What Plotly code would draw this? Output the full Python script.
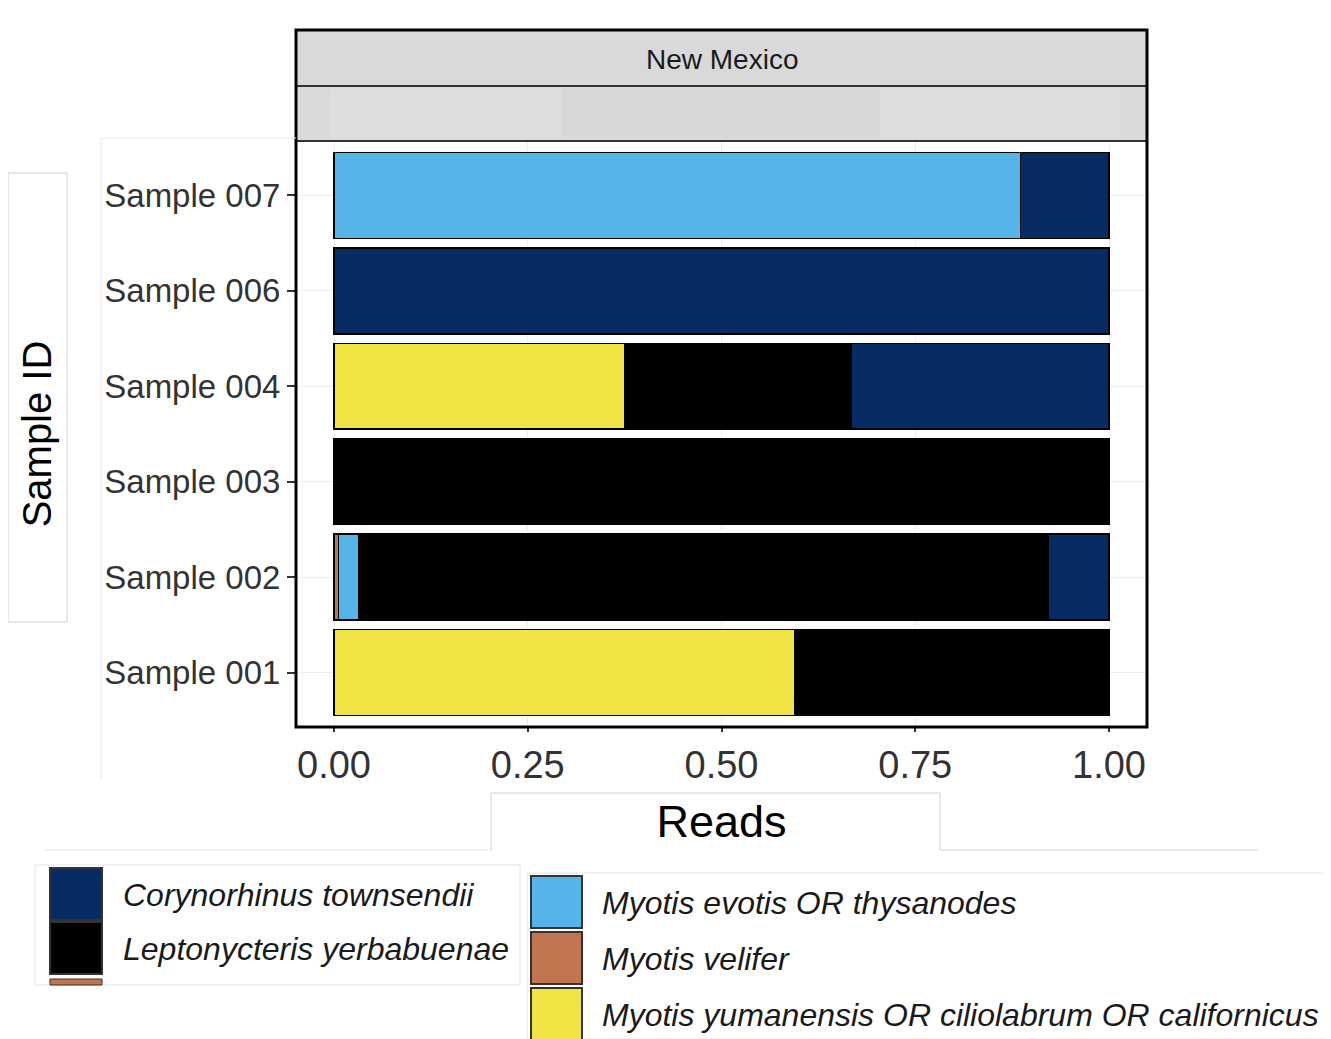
import plotly.graph_objects as go

# ---------------- data ----------------
samples = ["Sample 001", "Sample 002", "Sample 003", "Sample 004", "Sample 006", "Sample 007"]
species = [
    "Corynorhinus townsendii",
    "Leptonycteris yerbabuenae",
    "Myotis evotis OR thysanodes",
    "Myotis velifer",
    "Myotis yumanensis OR ciliolabrum OR californicus",
]
colors = ["#062C63", "#000000", "#56B4E9", "#C0754F", "#F0E442"]

coryno = [0.0, 0.079, 0.0, 0.333, 1.0, 0.114]
lepto = [0.406, 0.889, 1.0, 0.292, 0.0, 0.0]
evotis = [0.0, 0.026, 0.0, 0.0, 0.0, 0.886]
velifer = [0.0, 0.006, 0.0, 0.0, 0.0, 0.0]
yuman = [0.594, 0.0, 0.0, 0.375, 0.0, 0.0]
values = [coryno, lepto, evotis, velifer, yuman]

x_ticks = [0, 0.25, 0.5, 0.75, 1.0]
x_tick_labels = ["0.00", "0.25", "0.50", "0.75", "1.00"]
facet_label = "New Mexico"

# ---------------- geometry helpers (pixel -> paper) ----------------
W, H = 1331, 1039
OFF = 8  # page body margin
L, R, T, B = 296, 1147, 30, 727  # plot frame incl. strips (screen pixels)


def px(x):
    return (x - L) / (R - L)


def py(y):
    return (B - y) / (B - T)


FONT = "Liberation Sans, Arial, sans-serif"

fig = go.Figure()
# stacking order (left to right) follows reversed factor levels like ggplot
for i in reversed(range(len(species))):
    fig.add_trace(go.Bar(
        y=samples,
        x=[v if v > 0 else None for v in values[i]],
        name=species[i],
        orientation="h",
        marker=dict(color=colors[i], line=dict(color="black", width=1.5)),
        showlegend=False,
    ))

shapes = []
annotations = []

# strips
shapes.append(dict(type="rect", xref="paper", yref="paper", x0=0, x1=1, y0=py(86), y1=1,
                   fillcolor="#d9d9d9", line=dict(width=0), layer="below"))
shapes.append(dict(type="rect", xref="paper", yref="paper", x0=0, x1=1, y0=py(141), y1=py(86),
                   fillcolor="#dadada", line=dict(width=0), layer="below"))
shapes.append(dict(type="rect", xref="paper", yref="paper", x0=px(330), x1=px(1120), y0=py(138), y1=py(89),
                   fillcolor="#dedede", line=dict(width=0), layer="below"))
shapes.append(dict(type="rect", xref="paper", yref="paper", x0=px(561), x1=px(880), y0=py(138), y1=py(89),
                   fillcolor="#d8d8d8", line=dict(width=0), layer="below"))
shapes.append(dict(type="line", xref="paper", yref="paper", x0=0, x1=1, y0=py(86), y1=py(86),
                   line=dict(color="#333333", width=2)))
shapes.append(dict(type="line", xref="paper", yref="paper", x0=0, x1=1, y0=py(141), y1=py(141),
                   line=dict(color="#333333", width=2)))
# outer frame
shapes.append(dict(type="rect", xref="paper", yref="paper", x0=0, x1=1, y0=0, y1=1,
                   line=dict(color="black", width=3)))
annotations.append(dict(text=facet_label, xref="paper", yref="paper", x=px(722), y=py(59),
                        showarrow=False, font=dict(family=FONT, size=28, color="#1a1a1a"),
                        xanchor="center", yanchor="middle"))

# faint screenshot boxes
faint = dict(color="#d0d0d0", width=1)
shapes.append(dict(type="rect", xref="paper", yref="paper", x0=px(8), x1=px(67), y0=py(622), y1=py(173),
                   line=faint))
shapes.append(dict(type="path", xref="paper", yref="paper",
                   path=f"M {px(491)} {py(850)} L {px(491)} {py(793)} L {px(940)} {py(793)} L {px(940)} {py(850)} L {px(1258)} {py(850)}",
                   line=faint))
shapes.append(dict(type="line", xref="paper", yref="paper", x0=px(45), x1=px(491), y0=py(850), y1=py(850),
                   line=dict(color="#e4e4e4", width=1)))
shapes.append(dict(type="line", xref="paper", yref="paper", x0=px(101), x1=px(101), y0=py(780), y1=py(138),
                   line=dict(color="#e8e8e8", width=1)))
shapes.append(dict(type="line", xref="paper", yref="paper", x0=px(101), x1=px(296), y0=py(138), y1=py(138),
                   line=dict(color="#e8e8e8", width=1)))
shapes.append(dict(type="rect", xref="paper", yref="paper", x0=px(35), x1=px(520), y0=py(985), y1=py(865),
                   line=dict(color="#e4e4e4", width=1)))
shapes.append(dict(type="rect", xref="paper", yref="paper", x0=px(527), x1=px(1331), y0=py(1039), y1=py(873),
                   line=dict(color="#e4e4e4", width=1)))

# legend (two columns, as in reference)
leg_font = dict(family=FONT, size=32, color="#1a1a1a")
col1 = [(0, 868), (1, 922)]
for idx, top in col1:
    shapes.append(dict(type="rect", xref="paper", yref="paper", x0=px(50), x1=px(102),
                       y0=py(top + 52), y1=py(top), fillcolor=colors[idx],
                       line=dict(color="#333333", width=2)))
    annotations.append(dict(text=f"<i>{species[idx]}</i>", xref="paper", yref="paper",
                            x=px(121), y=py(top + 27), showarrow=False, font=leg_font,
                            xanchor="left", yanchor="middle"))
shapes.append(dict(type="rect", xref="paper", yref="paper", x0=px(50), x1=px(102),
                   y0=py(985), y1=py(979), fillcolor=colors[3], line=dict(color="#333333", width=1)))
col2 = [(2, 876), (3, 932), (4, 988)]
for idx, top in col2:
    shapes.append(dict(type="rect", xref="paper", yref="paper", x0=px(531), x1=px(582),
                       y0=py(top + 52), y1=py(top), fillcolor=colors[idx],
                       line=dict(color="#333333", width=2)))
    annotations.append(dict(text=f"<i>{species[idx]}</i>", xref="paper", yref="paper",
                            x=px(600), y=py(top + 27), showarrow=False, font=leg_font,
                            xanchor="left", yanchor="middle"))

fig.update_layout(
    width=W, height=H,
    margin=dict(l=L - OFF, r=W - (R - OFF), t=T - OFF, b=H - (B - OFF), pad=0),
    paper_bgcolor="white", plot_bgcolor="white",
    barmode="stack", bargap=0.1,
    showlegend=False,
    font=dict(family=FONT),
    xaxis=dict(
        range=[-(334 - 296) / 775, 1 + (1147 - 1109) / 775],
        tickvals=x_ticks, ticktext=x_tick_labels,
        tickfont=dict(family=FONT, size=38, color="#333333"),
        ticks="outside", ticklen=4, tickwidth=2, tickcolor="#333333",
        showgrid=True, gridcolor="#ededed", gridwidth=1,
        zeroline=False, showline=False,
        title=dict(text="Reads", font=dict(family=FONT, size=45, color="black"), standoff=20),
        automargin=False,
    ),
    yaxis=dict(
        type="category", categoryorder="array", categoryarray=samples,
        range=[-0.57, 5.57], domain=[0, py(141)],
        tickfont=dict(family=FONT, size=33, color="#333333"),
        ticks="outside", ticklen=8, tickwidth=2, tickcolor="#333333",
        showgrid=True, gridcolor="#ededed", gridwidth=1,
        zeroline=False, showline=False,
        title=dict(text="Sample ID", font=dict(family=FONT, size=40, color="black"), standoff=40),
        automargin=False,
    ),
    shapes=shapes,
    annotations=annotations,
)

fig.write_html("out.html")
